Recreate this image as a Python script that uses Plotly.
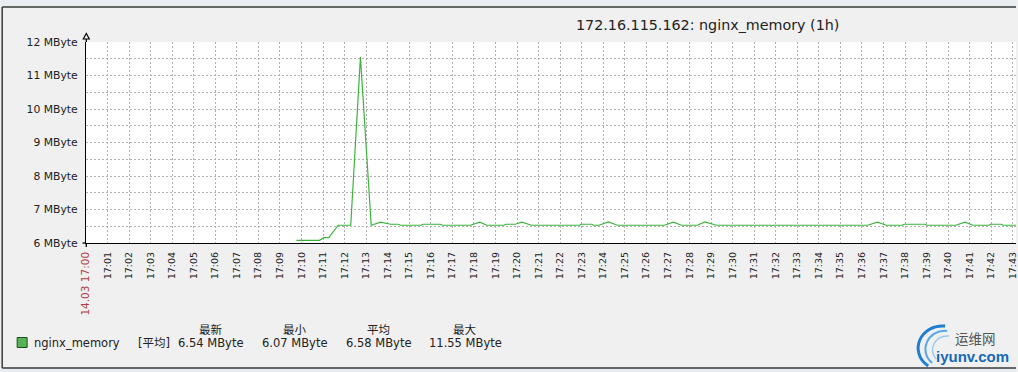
import plotly.graph_objects as go

# ---------------- data ----------------
DAY = "2014-03-14 "
times = ["17:09:46", "17:10:50", "17:11:02", "17:11:16", "17:11:42", "17:12:17",
         "17:12:44", "17:13:14", "17:13:40", "17:14:08", "17:14:29", "17:14:36",
         "17:15:33", "17:15:37", "17:16:26", "17:16:33", "17:17:50", "17:18:16",
         "17:18:36", "17:19:24", "17:19:29", "17:19:55", "17:20:13", "17:20:41",
         "17:22:54", "17:22:58", "17:23:28", "17:23:33", "17:23:48", "17:24:14",
         "17:24:40", "17:26:50", "17:27:15", "17:27:38", "17:28:22", "17:28:43",
         "17:29:15", "17:36:16", "17:36:43", "17:37:08", "17:37:53", "17:37:57",
         "17:38:56", "17:39:00", "17:40:21", "17:40:47", "17:41:09", "17:41:54",
         "17:41:58", "17:42:29", "17:42:33", "17:43:18"]
memory_mb = [6.08, 6.08, 6.16, 6.16, 6.53, 6.53,
             11.55, 6.53, 6.62, 6.56, 6.56, 6.53,
             6.53, 6.56, 6.56, 6.53, 6.53, 6.62,
             6.53, 6.53, 6.56, 6.56, 6.62, 6.53,
             6.53, 6.56, 6.56, 6.53, 6.53, 6.63,
             6.53, 6.53, 6.62, 6.53, 6.53, 6.63,
             6.53, 6.53, 6.62, 6.53, 6.53, 6.56,
             6.56, 6.53, 6.53, 6.62, 6.53, 6.53,
             6.56, 6.56, 6.53, 6.53]

tick_minutes = ["17:%02d" % m for m in range(0, 44)]
first_tick_label = "14.03 17:00"
y_ticks = [6, 7, 8, 9, 10, 11, 12]
y_tick_labels = ["%d MByte" % v for v in y_ticks]

title_text = "172.16.115.162: nginx_memory (1h)"
series_name = "nginx_memory"
func_label = "[平均]"
stat_headers = ["最新", "最小", "平均", "最大"]
stat_values = ["6.54 MByte", "6.07 MByte", "6.58 MByte", "11.55 MByte"]

# ---------------- layout helpers ----------------
W, H = 1018, 372
L, R, T, B = 86, 0, 42, 129
PW, PH = W - L - R, H - T - B


def px(x, y):
    return (x - L) / PW, (H - B - y) / PH


FONT = "DejaVu Sans, Noto Sans CJK SC, sans-serif"
GRID = "#b0b0b0"
TXT = "#222222"

x_vals = [DAY + t for t in times]
tickvals = [DAY + t + ":00" for t in tick_minutes]
ticktext = ['<span style="color:#b03c3c;font-size:10.5px">%s</span>' % first_tick_label] + tick_minutes[1:]

fig = go.Figure()
fig.add_trace(go.Scatter(
    x=x_vals, y=memory_mb, mode="lines",
    line=dict(color="#3cb43c", width=1.2, shape="linear"),
    showlegend=False, hoverinfo="skip"))

fig.update_layout(
    width=W, height=H,
    margin=dict(l=L, r=R, t=T, b=B, pad=0),
    paper_bgcolor="#f0f0f0", plot_bgcolor="#ffffff",
    font=dict(family=FONT, size=10, color=TXT),
    showlegend=False,
)

fig.update_xaxes(
    type="date",
    range=[DAY + "17:00:00", DAY + "17:43:09"],
    tickvals=tickvals, ticktext=ticktext, tickangle=-90,
    tickfont=dict(size=9.5, family=FONT, color=TXT),
    ticklabeloverflow="allow",
    showgrid=True, gridcolor=GRID, griddash="2px,2px", gridwidth=1,
    showline=True, linecolor="#000000", linewidth=1.3,
    ticks="outside", ticklen=4, tickcolor="rgba(0,0,0,0)",
    zeroline=False, fixedrange=True,
)
fig.update_yaxes(
    range=[6, 12],
    tickvals=y_ticks, ticktext=y_tick_labels,
    tickfont=dict(size=10.8, family=FONT, color=TXT),
    showgrid=True, gridcolor=GRID, griddash="2px,2px", gridwidth=1,
    minor=dict(dtick=0.5, tick0=6, showgrid=True, gridcolor=GRID,
               griddash="2px,2px", gridwidth=1, ticks=""),
    showline=True, linecolor="#000000", linewidth=1.3,
    ticks="outside", ticklen=5, tickcolor="rgba(0,0,0,0)",
    zeroline=False, fixedrange=True,
)

shapes = []
# top strip and frame
x0, y0 = px(0, 0)
x1, y1 = px(W, 7)
shapes.append(dict(type="rect", xref="paper", yref="paper", x0=x0, x1=x1, y0=y1, y1=y0,
                   fillcolor="#e9edf1", line=dict(width=0), layer="below"))
x0, y0 = px(0, 368)
x1, y1 = px(W, H)
shapes.append(dict(type="rect", xref="paper", yref="paper", x0=x0, x1=x1, y0=y1, y1=y0,
                   fillcolor="#e9edf1", line=dict(width=0), layer="below"))
for (ax, ay, bx, by) in [(2, 7, W, 7), (2, 7, 2, 368), (2, 368, W, 368)]:
    a = px(ax, ay)
    b = px(bx, by)
    shapes.append(dict(type="line", xref="paper", yref="paper", x0=a[0], y0=a[1],
                       x1=b[0], y1=b[1], line=dict(color="#3a3a3a", width=1.5)))

# arrow on top of y axis
p1, p2, p3 = px(86.3, 33.5), px(83.3, 39), px(89.3, 39)
shapes.append(dict(type="path", xref="paper", yref="paper",
                   path="M %f %f L %f %f L %f %f Z" % (p1[0], p1[1], p2[0], p2[1], p3[0], p3[1]),
                   fillcolor="#ffffff", line=dict(color="#000000", width=1.2)))
# axis line extensions (y axis up to arrow, axes crossing past each other)
for (ax, ay, bx, by) in [(86.3, 39, 86.3, 42), (82.5, 243, 86, 243), (86.3, 243, 86.3, 247)]:
    a, b = px(ax, ay), px(bx, by)
    shapes.append(dict(type="line", xref="paper", yref="paper", x0=a[0], y0=a[1],
                       x1=b[0], y1=b[1], line=dict(color="#000000", width=1.3)))

# legend colour square
a, b = px(17, 337.5), px(27, 347.5)
shapes.append(dict(type="rect", xref="paper", yref="paper", x0=a[0], y0=b[1], x1=b[0], y1=a[1],
                   fillcolor="#55b455", line=dict(color="#1f4f1f", width=1)))


# watermark logo arcs
def arc(pts, color, width):
    c = [px(*p) for p in pts]
    path = "M %f %f C %f %f %f %f %f %f" % (c[0][0], c[0][1], c[1][0], c[1][1],
                                           c[2][0], c[2][1], c[3][0], c[3][1])
    return dict(type="path", xref="paper", yref="paper", path=path,
                line=dict(color=color, width=width))


shapes.append(arc([(947, 326), (922, 324), (910, 352), (930, 366)], "#1e7fd0", 3))
shapes.append(arc([(949, 331), (929, 329), (920, 352), (934, 363)], "#58a8e8", 2))
shapes.append(arc([(951, 336), (936, 335), (930, 350), (938, 359)], "#9acbf0", 1.5))

fig.update_layout(shapes=shapes)

ann = []
tx, ty = px(709, 25)
ann.append(dict(text=title_text, x=tx, y=ty, xref="paper", yref="paper",
                xanchor="center", yanchor="middle", showarrow=False,
                font=dict(size=14.3, family=FONT, color=TXT)))
nx, ny = px(32, 342.5)
ann.append(dict(text=series_name, x=nx, y=ny, xref="paper", yref="paper",
                xanchor="left", yanchor="middle", showarrow=False,
                font=dict(size=11.5, family=FONT, color=TXT)))
fx, fy = px(136.5, 342.5)
ann.append(dict(text=func_label, x=fx, y=fy, xref="paper", yref="paper",
                xanchor="left", yanchor="middle", showarrow=False,
                font=dict(size=11.5, family=FONT, color=TXT)))
col_centers = [211, 295, 379, 466]
for cx, hdr, val in zip(col_centers, stat_headers, stat_values):
    hx, hy = px(cx, 329.5)
    ann.append(dict(text=hdr, x=hx, y=hy, xref="paper", yref="paper",
                    xanchor="center", yanchor="middle", showarrow=False,
                    font=dict(size=11.5, family=FONT, color=TXT)))
    vx, vy = px(cx, 342.5)
    ann.append(dict(text=val, x=vx, y=vy, xref="paper", yref="paper",
                    xanchor="center", yanchor="middle", showarrow=False,
                    font=dict(size=11.5, family=FONT, color=TXT)))

lx, ly = px(977, 338)
ann.append(dict(text="运维网", x=lx, y=ly, xref="paper", yref="paper",
                xanchor="center", yanchor="middle", showarrow=False,
                font=dict(size=13.5, family="Noto Sans CJK SC", color="#555555")))
lx, ly = px(974, 356)
ann.append(dict(text="<b>iyunv.com</b>", x=lx, y=ly, xref="paper", yref="paper",
                xanchor="center", yanchor="middle", showarrow=False,
                font=dict(size=15, family="Liberation Sans, Arial", color="#1668b8")))
fig.update_layout(annotations=ann)

fig.write_html("out.html")
